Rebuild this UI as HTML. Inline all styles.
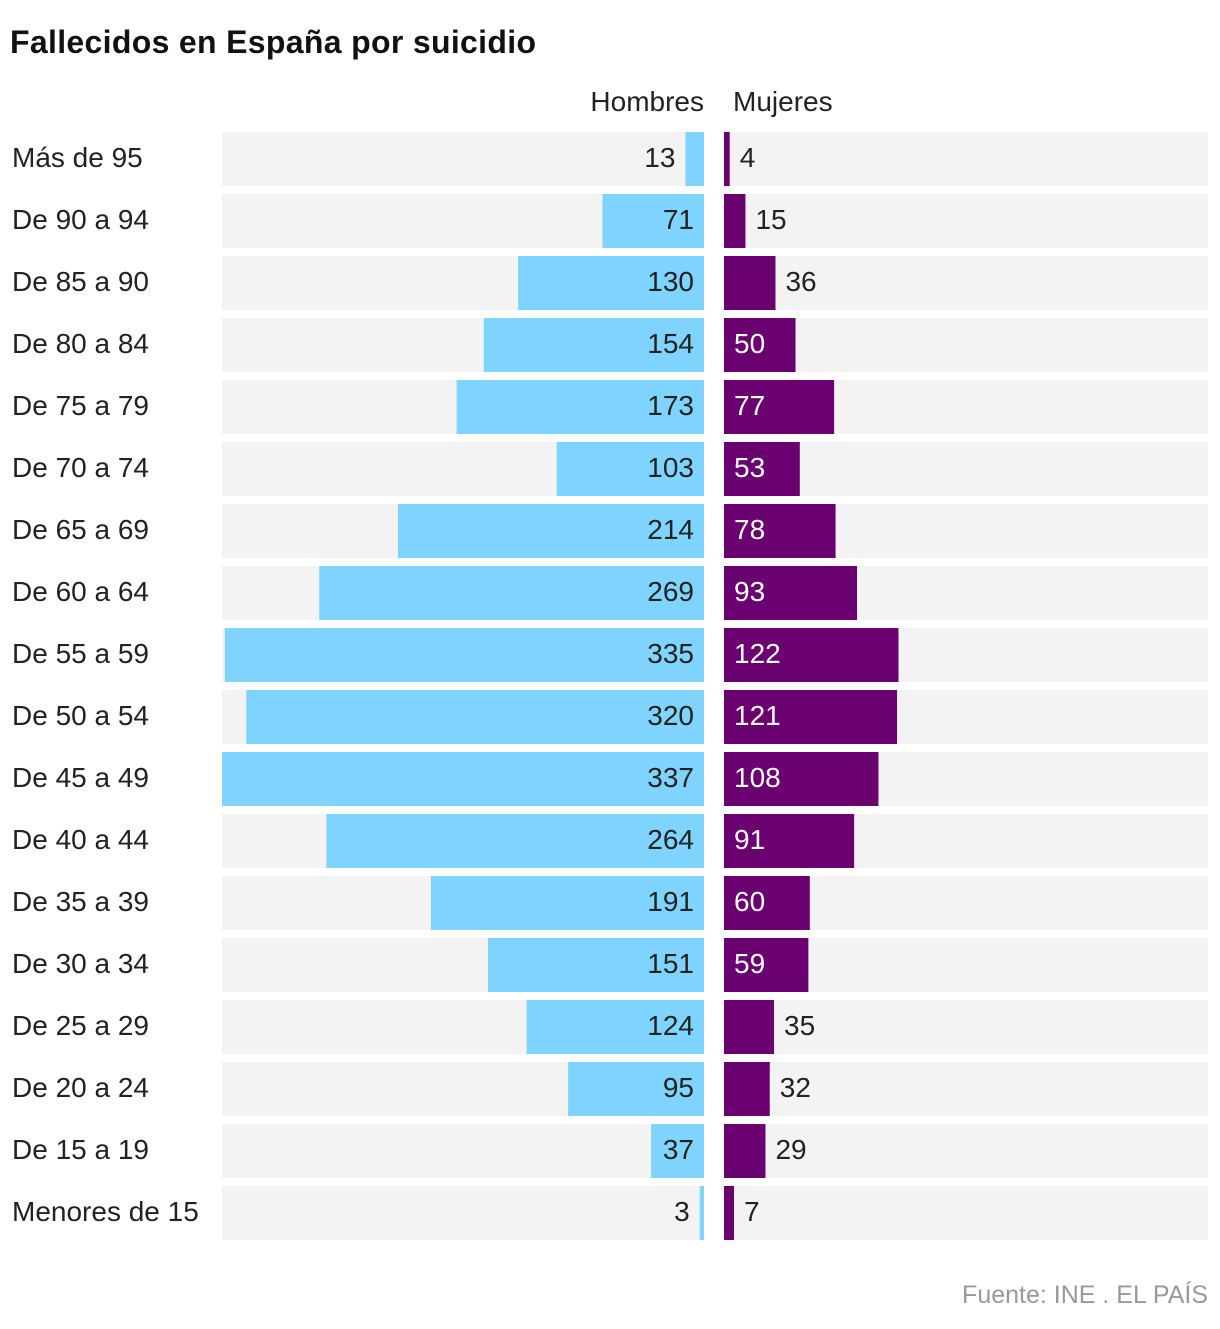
<!DOCTYPE html>
<html><head><meta charset="utf-8"><style>
body{margin:0;background:#fff;width:1220px;height:1324px;overflow:hidden;font-family:"Liberation Sans",sans-serif;}
</style></head><body>
<svg id="c" width="1220" height="1324" xmlns="http://www.w3.org/2000/svg">
<text x="10" y="53" font-size="32" font-weight="bold" fill="#111" textLength="526">Fallecidos en España por suicidio</text>
<text x="704" y="111" font-size="28" fill="#222" text-anchor="end">Hombres</text>
<text x="733" y="111" font-size="28" fill="#222">Mujeres</text>
<text x="1208" y="1303" font-size="25" fill="#999" text-anchor="end">Fuente: INE . EL PAÍS</text>
<g id="rows"></g>
</svg>
<script>
const categories=["Más de 95","De 90 a 94","De 85 a 90","De 80 a 84","De 75 a 79","De 70 a 74","De 65 a 69","De 60 a 64","De 55 a 59","De 50 a 54","De 45 a 49","De 40 a 44","De 35 a 39","De 30 a 34","De 25 a 29","De 20 a 24","De 15 a 19","Menores de 15"];
const hombres=[13,71,130,154,173,103,214,269,335,320,337,264,191,151,124,95,37,3];
const mujeres=[4,15,36,50,77,53,78,93,122,121,108,91,60,59,35,32,29,7];
const NS="http://www.w3.org/2000/svg";
const g=document.getElementById('rows');
const maxV=337, L0=704, R0=724, leftW=482;
const sx=v=>v*leftW/maxV;
const rowY=i=>132+i*62;
function mk(t,a){const e=document.createElementNS(NS,t);for(const k in a)e.setAttribute(k,a[k]);g.appendChild(e);return e;}
categories.forEach((c,i)=>{
  const y=rowY(i);
  let e=mk('rect',{x:222,y:y,width:482,height:54,fill:'#f3f3f3'});
  
  
  e=mk('rect',{x:724,y:y,width:484,height:54,fill:'#f3f3f3'});
  
  
  e=mk('text',{x:12,y:y+35,'font-size':28,fill:'#222'});e.textContent=c;
  
  
  const hw=sx(hombres[i]);
  e=mk('rect',{x:L0-hw,y:y,width:hw,height:54,fill:'#7fd4ff'});
  
  
  const hx=hw>40?L0-10:L0-hw-10;
  e=mk('text',{x:hx,y:y+35,'font-size':28,fill:'#222','text-anchor':'end'});e.textContent=hombres[i];
  
  
  const mw=sx(mujeres[i]);
  e=mk('rect',{x:R0,y:y,width:mw,height:54,fill:'#6b0070'});
  
  
  const inside=mujeres[i]>=50;
  e=mk('text',{x:inside?R0+10:R0+mw+10,y:y+35,'font-size':28,fill:inside?'#fff':'#222'});e.textContent=mujeres[i];
  
  
});
</script>
</body></html>
